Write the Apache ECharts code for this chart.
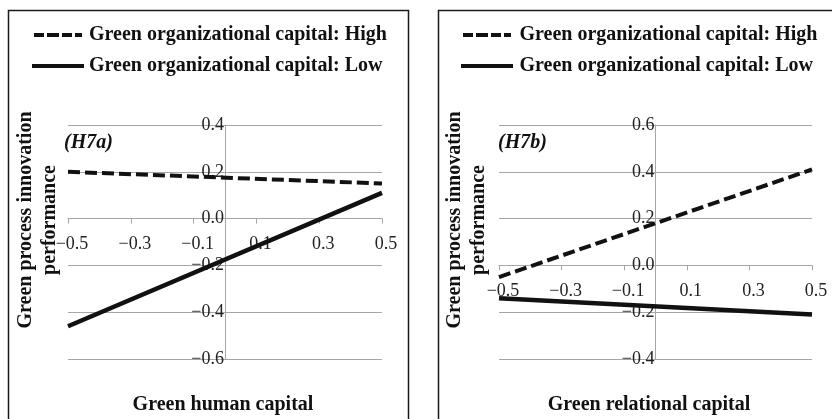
<!DOCTYPE html>
<html>
<head>
<meta charset="utf-8">
<script src="https://cdn.jsdelivr.net/npm/echarts@6/dist/echarts.min.js"></script>
<style>
html,body{margin:0;padding:0;background:#fff;}
#main{width:832px;height:419px;}
</style>
</head>
<body>
<div id="main"></div>
<script>
// ---- data ----
const seriesNames = ['Green organizational capital: High', 'Green organizational capital: Low'];
const xValues = [-0.5, 0.5];
const xTicks = [-0.5, -0.3, -0.1, 0.1, 0.3, 0.5];
// Panel a (H7a): Green human capital
const highA = [0.20, 0.15];
const lowA = [-0.46, 0.11];
const yTicksA = [-0.6, -0.4, -0.2, 0.0, 0.2, 0.4];
// Panel b (H7b): Green relational capital
const highB = [-0.05, 0.41];
const lowB = [-0.14, -0.21];
const yTicksB = [-0.4, -0.2, 0.0, 0.2, 0.4, 0.6];
const xTitles = ['Green human capital', 'Green relational capital'];
const yTitle = 'Green process innovation\nperformance';
const panelTags = ['(H7a)', '(H7b)'];

const FONT = '"Liberation Serif", "Times New Roman", serif';
function fmt(v) {
  if (Math.abs(v) < 1e-9) return '0.0';
  return (v < 0 ? '\u2212' : '') + Math.abs(v).toFixed(1);
}
function pairs(xs, ys) { return xs.map((x, i) => [x, ys[i]]); }

// grid geometry
const grids = [
  { left: 68, width: 314, top: 125, height: 234 },
  { left: 499, width: 313, top: 125, height: 234 }
];
function zeroOffsets(g, yTicks) {
  const xmin = xTicks[0], xmax = xTicks[xTicks.length - 1];
  const ymin = yTicks[0], ymax = yTicks[yTicks.length - 1];
  const yZeroPix = g.top + (ymax - 0) / (ymax - ymin) * g.height;
  const xZeroPix = g.left + (0 - xmin) / (xmax - xmin) * g.width;
  return { xOff: -(g.top + g.height - yZeroPix), yOff: -(xZeroPix - g.left) };
}
const offA = zeroOffsets(grids[0], yTicksA);
const offB = zeroOffsets(grids[1], yTicksB);

function xAxisCfg(gi, off) {
  return {
    type: 'value', gridIndex: gi, min: xTicks[0], max: xTicks[xTicks.length - 1],
    position: 'bottom', offset: off,
    axisLine: { onZero: false, lineStyle: { color: '#a6a6a6', width: 1 } },
    axisTick: { show: true, length: 5, customValues: xTicks, lineStyle: { color: '#a6a6a6' } },
    axisLabel: { customValues: xTicks, formatter: fmt, fontFamily: FONT, fontSize: 18, color: '#222', margin: 17, padding: [0, 0, 0, 8] },
    splitLine: { show: false }
  };
}
function yAxisCfg(gi, ticks, off) {
  return {
    type: 'value', gridIndex: gi, min: ticks[0], max: ticks[ticks.length - 1], interval: 0.2,
    position: 'left', offset: off,
    axisLine: { onZero: false, lineStyle: { color: '#a6a6a6', width: 1 } },
    axisTick: { show: false },
    axisLabel: { formatter: fmt, fontFamily: FONT, fontSize: 18, color: '#222', margin: 1 },
    splitLine: { show: true, lineStyle: { color: '#a6a6a6', width: 1 } }
  };
}
const dashStyle = { color: '#111', width: 4, type: [12, 5] };
const solidStyle = { color: '#111', width: 4.5, type: 'solid' };
function lineSeries(name, gi, ys, style) {
  return {
    name: name, type: 'line', xAxisIndex: gi, yAxisIndex: gi,
    data: pairs(xValues, ys), symbol: 'none', showSymbol: false,
    lineStyle: style, itemStyle: { color: '#111' }, animation: false, z: 3
  };
}
const dashIcon = 'path://M0,0H10V4H0Z M13,0H25V4H13Z M28,0H38V4H28Z M41,0H48V4H41Z';
const solidIcon = 'path://M0,0H52V4H0Z';
function legendCfg(left, iw) {
  return {
    data: [{ name: seriesNames[0], icon: dashIcon }, { name: seriesNames[1], icon: solidIcon }],
    orient: 'vertical', left: left, top: 25, padding: 0,
    itemWidth: iw, itemHeight: 4, itemGap: 11,
    itemStyle: { color: '#111' },
    textStyle: { fontFamily: FONT, fontSize: 20, fontWeight: 'bold', color: '#111' },
    selectedMode: false
  };
}

const chart = echarts.init(document.getElementById('main'), null, { renderer: 'canvas' });
chart.setOption({
  backgroundColor: '#fff',
  animation: false,
  legend: [legendCfg(32, 52), legendCfg(461, 55)],
  grid: grids,
  xAxis: [xAxisCfg(0, offA.xOff), xAxisCfg(1, offB.xOff)],
  yAxis: [yAxisCfg(0, yTicksA, offA.yOff), yAxisCfg(1, yTicksB, offB.yOff)],
  series: [
    lineSeries(seriesNames[0], 0, highA, dashStyle),
    lineSeries(seriesNames[1], 0, lowA, solidStyle),
    lineSeries(seriesNames[0], 1, highB, dashStyle),
    lineSeries(seriesNames[1], 1, lowB, solidStyle)
  ],
  graphic: [
    { type: 'rect', shape: { x: 8.5, y: 10.5, width: 400, height: 430 }, style: { fill: 'none', stroke: '#1a1a1a', lineWidth: 1.5 }, silent: true },
    { type: 'rect', shape: { x: 438.5, y: 10.5, width: 420, height: 430 }, style: { fill: 'none', stroke: '#1a1a1a', lineWidth: 1.5 }, silent: true },
    { type: 'text', x: 38, y: 220, rotation: Math.PI / 2, style: { text: yTitle, font: 'bold 20px ' + FONT, align: 'center', verticalAlign: 'middle', lineHeight: 24, fill: '#111' } },
    { type: 'text', x: 467, y: 220, rotation: Math.PI / 2, style: { text: yTitle, font: 'bold 20px ' + FONT, align: 'center', verticalAlign: 'middle', lineHeight: 24, fill: '#111' } },
    { type: 'text', x: 223, y: 405, style: { text: xTitles[0], font: 'bold 20px ' + FONT, align: 'center', verticalAlign: 'middle', fill: '#111' } },
    { type: 'text', x: 649, y: 405, style: { text: xTitles[1], font: 'bold 20px ' + FONT, align: 'center', verticalAlign: 'middle', fill: '#111' } },
    { type: 'text', x: 64, y: 143, style: { text: panelTags[0], font: 'italic bold 20px ' + FONT, align: 'left', verticalAlign: 'middle', fill: '#111' } },
    { type: 'text', x: 498, y: 143, style: { text: panelTags[1], font: 'italic bold 20px ' + FONT, align: 'left', verticalAlign: 'middle', fill: '#111' } }
  ]
});
</script>
</body>
</html>
